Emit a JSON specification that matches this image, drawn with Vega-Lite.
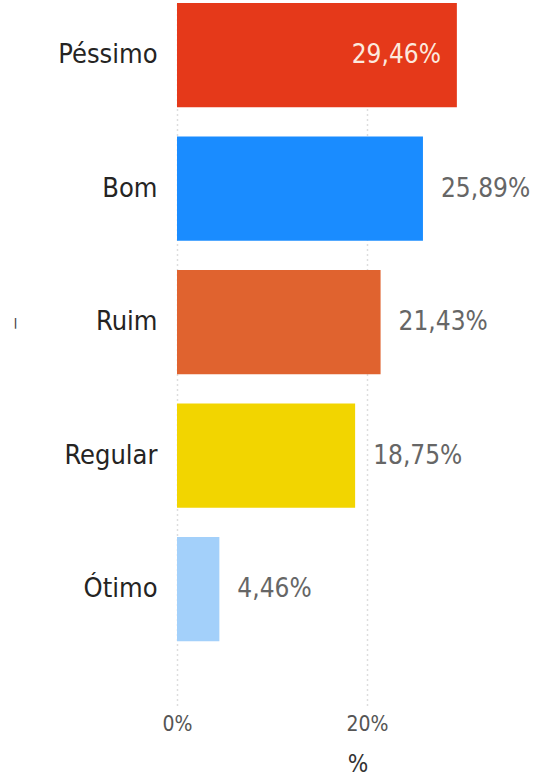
{
  "$schema": "https://vega.github.io/schema/vega-lite/v6.json",
  "width": 361,
  "height": 702,
  "autosize": {"type": "none"},
  "padding": {"left": 177, "top": 3, "right": 0, "bottom": 76},
  "background": "#ffffff",
  "data": {
    "values": [
      {"avaliacao": "Péssimo", "pct": 0.2946},
      {"avaliacao": "Bom", "pct": 0.2589},
      {"avaliacao": "Ruim", "pct": 0.2143},
      {"avaliacao": "Regular", "pct": 0.1875},
      {"avaliacao": "Ótimo", "pct": 0.0446}
    ]
  },
  "encoding": {
    "y": {
      "field": "avaliacao",
      "type": "nominal",
      "sort": ["Péssimo", "Bom", "Ruim", "Regular", "Ótimo"],
      "scale": {"paddingInner": 0.22, "paddingOuter": 0.239, "align": 0},
      "axis": {
        "title": "|",
        "titleAngle": 0,
        "titleAlign": "center",
        "titleBaseline": "middle",
        "titleX": -162,
        "titleY": 319,
        "titleFontSize": 11,
        "titleColor": "#444444",
        "titleFont": "DejaVu Sans",
        "domain": false,
        "ticks": false,
        "labelPadding": 20,
        "labelFontSize": 27,
        "labelColor": "#252423",
        "labelFont": "DejaVu Sans Condensed, Liberation Sans Narrow, sans-serif"
      }
    },
    "x": {
      "field": "pct",
      "type": "quantitative",
      "scale": {"domain": [0, 0.38], "nice": false},
      "axis": {
        "title": "%",
        "values": [0, 0.2],
        "format": ".0%",
        "domain": false,
        "ticks": false,
        "grid": true,
        "gridDash": [1, 4],
        "gridColor": "#bbbbbb",
        "gridWidth": 1.5,
        "labelFlush": false,
        "labelPadding": 8,
        "labelFontSize": 21,
        "labelColor": "#555555",
        "labelFont": "DejaVu Sans Condensed, Liberation Sans Narrow, sans-serif",
        "titlePadding": 18,
        "titleFontSize": 24,
        "titleFontWeight": "normal",
        "titleColor": "#333333",
        "titleFont": "DejaVu Sans Condensed, Liberation Sans Narrow, sans-serif"
      }
    }
  },
  "layer": [
    {
      "mark": {"type": "bar"},
      "encoding": {
        "color": {
          "field": "avaliacao",
          "type": "nominal",
          "scale": {
            "domain": ["Péssimo", "Bom", "Ruim", "Regular", "Ótimo"],
            "range": ["#E5391A", "#1A8CFF", "#E0632F", "#F2D500", "#A3D0FA"]
          },
          "legend": null
        }
      }
    },
    {
      "transform": [{"filter": "datum.avaliacao === 'Péssimo'"}],
      "mark": {
        "type": "text",
        "align": "right",
        "baseline": "middle",
        "dx": -16,
        "fontSize": 26,
        "color": "#FCE9DE",
        "font": "DejaVu Sans Condensed, Liberation Sans Narrow, sans-serif"
      },
      "encoding": {"text": {"field": "pct", "type": "quantitative", "format": ".2%"}}
    },
    {
      "transform": [{"filter": "datum.avaliacao !== 'Péssimo'"}],
      "mark": {
        "type": "text",
        "align": "left",
        "baseline": "middle",
        "dx": 18,
        "fontSize": 26,
        "color": "#666666",
        "font": "DejaVu Sans Condensed, Liberation Sans Narrow, sans-serif"
      },
      "encoding": {"text": {"field": "pct", "type": "quantitative", "format": ".2%"}}
    }
  ],
  "config": {
    "view": {"stroke": null},
    "locale": {
      "number": {"decimal": ",", "thousands": ".", "grouping": [3], "currency": ["R$", ""]}
    }
  }
}
